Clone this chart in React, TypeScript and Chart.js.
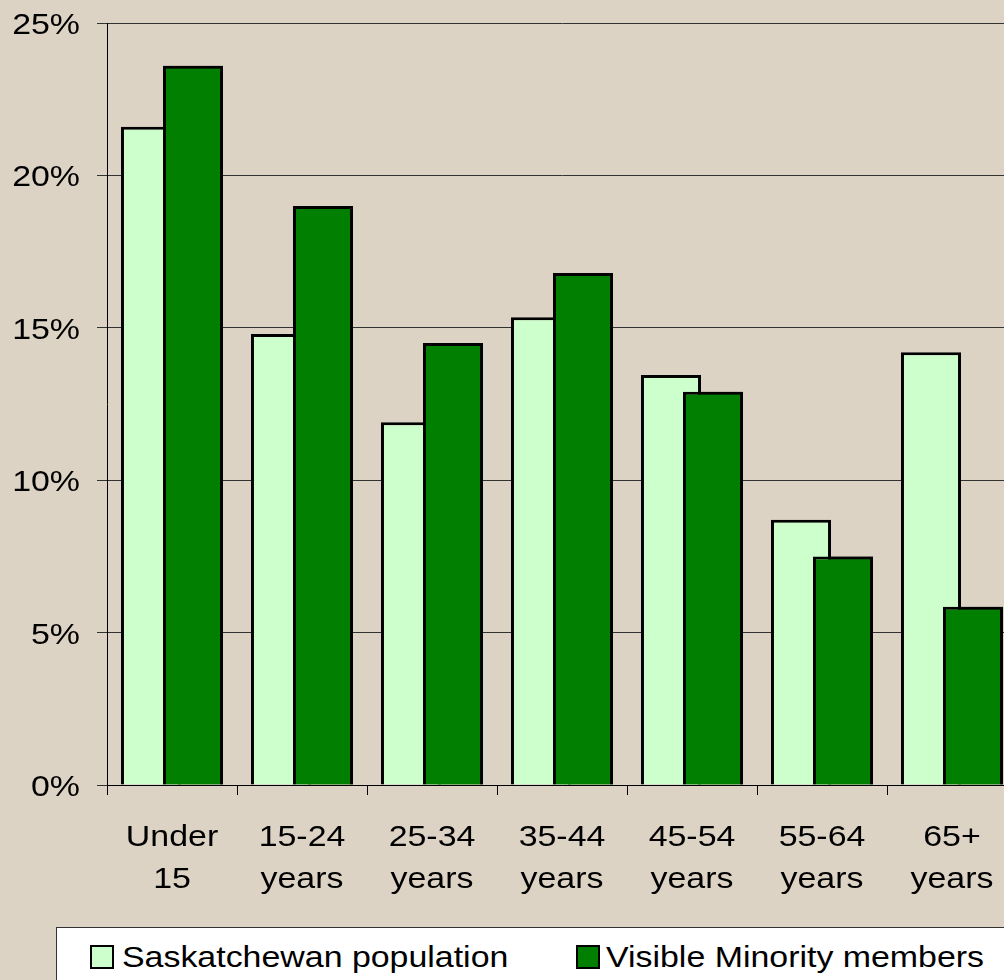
import React, { useEffect, useRef } from "react";
import { Chart, registerables } from "chart.js";
Chart.register(...registerables);

const categories: string[][] = [
  ["Under", "15"],
  ["15-24", "years"],
  ["25-34", "years"],
  ["35-44", "years"],
  ["45-54", "years"],
  ["55-64", "years"],
  ["65+", "years"],
];
const saskatchewan = [21.6, 14.8, 11.9, 15.35, 13.45, 8.7, 14.2];
const visibleMinority = [23.6, 19.0, 14.5, 16.8, 12.9, 7.5, 5.85];
const seriesNames = ["Saskatchewan population", "Visible Minority members"];
const seriesColors = ["#ccffcc", "#007f00"];
const yMax = 25;
const yStep = 5;

const FONT = "'Liberation Sans', Arial, sans-serif";
const SX = 1.13; // horizontal stretch of the text in the reference

const redrawTopPlugin = {
  id: "redrawTop",
  afterDatasetsDraw(chart: any) {
    const meta = chart.getDatasetMeta(1);
    const ctx = chart.ctx;
    const area = chart.chartArea;
    ctx.save();
    meta.data.forEach((el: any) => el.draw(ctx, area));
    ctx.restore();
  },
};

const tickLabelPlugin = {
  id: "tickLabels",
  afterDraw(chart: any) {
    const ctx = chart.ctx;
    const xs = chart.scales.x;
    const ys = chart.scales.y;
    ctx.save();
    ctx.fillStyle = "#000";
    ctx.font = `30px ${FONT}`;
    ctx.textBaseline = "alphabetic";
    ys.ticks.forEach((t: any, i: number) => {
      const y = ys.getPixelForTick(i);
      ctx.save();
      ctx.translate(ys.right - 27, y + 11);
      ctx.scale(SX, 1);
      ctx.textAlign = "right";
      ctx.fillText(t.value + "%", 0, 0);
      ctx.restore();
    });
    categories.forEach((lines, i) => {
      const x = xs.getPixelForValue(i);
      lines.forEach((ln, j) => {
        ctx.save();
        ctx.translate(x, xs.top + 61 + j * 42);
        ctx.scale(SX, 1);
        ctx.textAlign = "center";
        ctx.fillText(ln, 0, 0);
        ctx.restore();
      });
    });
    ctx.restore();
  },
};

export default function App() {
  const ref = useRef<HTMLCanvasElement>(null);
  useEffect(() => {
    if (!ref.current) return;
    const chart = new Chart(ref.current, {
      type: "bar",
      data: {
        labels: categories,
        datasets: [
          {
            label: seriesNames[0],
            data: saskatchewan,
            backgroundColor: seriesColors[0],
            borderColor: "#000",
            borderWidth: 3,
            categoryPercentage: 0.646,
            barPercentage: 1.43,
          },
          {
            label: seriesNames[1],
            data: visibleMinority,
            backgroundColor: seriesColors[1],
            borderColor: "#000",
            borderWidth: 3,
            categoryPercentage: 0.646,
            barPercentage: 1.43,
          },
        ],
      },
      options: {
        animation: false,
        responsive: false,
        maintainAspectRatio: false,
        layout: { padding: { top: 23, right: 3, bottom: 0, left: 0 } },
        plugins: {
          legend: { display: false },
          tooltip: { enabled: false },
        },
        scales: {
          x: {
            grid: {
              display: true,
              drawOnChartArea: false,
              drawTicks: true,
              tickLength: 10,
              color: "#000",
              offset: true,
            },
            border: { display: true, color: "#000", width: 1 },
            ticks: { display: false, autoSkip: false },
            afterFit(scale: any) {
              scale.height = 140;
            },
          },
          y: {
            min: 0,
            max: yMax,
            grid: {
              color: "#333",
              lineWidth: 1,
              tickLength: 10,
              drawTicks: true,
            },
            border: { display: true, color: "#000", width: 1 },
            ticks: { stepSize: yStep, display: false },
            afterFit(scale: any) {
              scale.width = 107;
            },
          },
        },
      },
      plugins: [redrawTopPlugin, tickLabelPlugin],
    });
    return () => chart.destroy();
  }, []);

  const legendText: React.CSSProperties = {
    position: "absolute",
    fontFamily: FONT,
    fontSize: 30,
    lineHeight: "30px",
    color: "#000",
    whiteSpace: "nowrap",
    transform: `scaleX(${SX})`,
    transformOrigin: "left top",
  };
  const square = (c: string, left: number): React.CSSProperties => ({
    position: "absolute",
    left,
    top: 17,
    width: 24,
    height: 24,
    boxSizing: "border-box",
    border: "2px solid #000",
    background: c,
  });

  return (
    <div
      style={{
        position: "fixed",
        left: 0,
        top: 0,
        width: 1004,
        height: 980,
        overflow: "hidden",
        background: "#dcd3c5",
      }}
    >
      <canvas
        ref={ref}
        width={1020}
        height={925}
        style={{ position: "absolute", left: 0, top: 0, width: 1020, height: 925 }}
      />
      <div
        style={{
          position: "absolute",
          left: 56,
          top: 927,
          width: 1000,
          height: 80,
          background: "#fff",
          border: "1px solid #333",
        }}
      >
        <div style={square(seriesColors[0], 33)} />
        <div style={{ ...legendText, left: 65, top: 14 }}>{seriesNames[0]}</div>
        <div style={square(seriesColors[1], 519)} />
        <div style={{ ...legendText, left: 549, top: 14 }}>{seriesNames[1]}</div>
      </div>
    </div>
  );
}
